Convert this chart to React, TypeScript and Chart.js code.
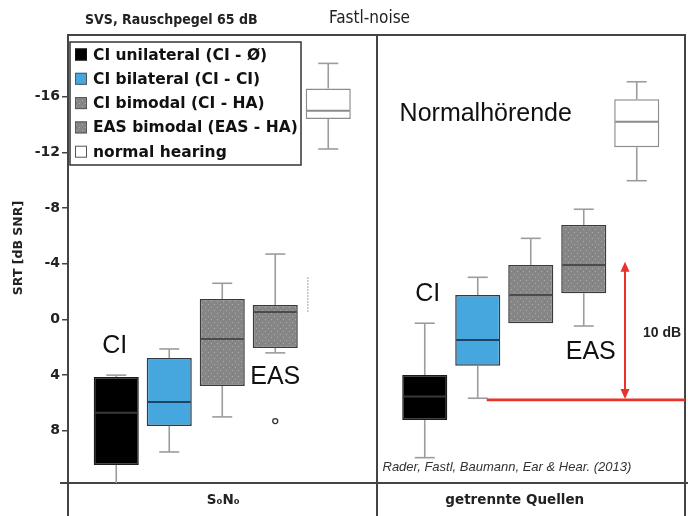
import React, { useEffect, useRef } from "react";
import { Chart, registerables } from "chart.js";

Chart.register(...registerables);

// ---------------- data (SRT in dB SNR) ----------------
// each entry per condition: [upper whisker, Q1 (box top), median, Q3 (box bottom), lower whisker]
const conditions = ["S₀N₀", "getrennte Quellen"];
const seriesNames = [
  "CI unilateral (CI - Ø)",
  "CI bilateral (CI - CI)",
  "CI bimodal (CI - HA)",
  "EAS bimodal (EAS - HA)",
  "normal hearing",
];
const ciUnilateral = [
  [4.0, 4.13, 6.7, 10.45, 12.5],
  [0.27, 3.99, 5.54, 7.22, 9.93],
];
const ciBilateral = [
  [2.12, 2.77, 5.93, 7.65, 9.52],
  [-3.03, -1.76, 1.47, 3.32, 5.66],
];
const ciBimodal = [
  [-2.6, -1.47, 1.4, 4.78, 7.0],
  [-5.83, -3.92, -1.76, 0.27, 0.27],
];
const easBimodal = [
  [-4.7, -1.04, -0.54, 2.05, 2.4],
  [-7.92, -6.79, -3.92, -1.88, 0.47],
];
const normalHearing = [
  [-18.4, -16.6, -15.0, -14.4, -12.25],
  [-17.08, -15.82, -14.21, -12.37, -9.97],
];
const easOutliers = [[7.3], []];
const yTicks = [-16, -12, -8, -4, 0, 4, 8];
const benefitBase = 5.78; // red reference line
const benefitTop = -4.15; // top of the 10 dB arrow
const faintMark = [-3.05, -0.47];

const seriesStats = [ciUnilateral, ciBilateral, ciBimodal, easBimodal, normalHearing];
const seriesOutliers = [[[], []], [[], []], [[], []], easOutliers, [[], []]];

// ---------------- styles ----------------
const FONT = "'DejaVu Sans', sans-serif";
const ARIAL = "'Liberation Sans', Arial, sans-serif";
const borderColors = ["#1a1a1a", "#2e3a44", "#3a3a3a", "#3a3a3a", "#8c8c8c"];
const medianColors = ["#3a3a3a", "#1d4460", "#4c4c4c", "#4c4c4c", "#8c8c8c"];
const whiskerColor = "#9c9c9c";
const RED = "#e8322b";

function makePattern(): CanvasPattern | string {
  const c = document.createElement("canvas");
  c.width = 6;
  c.height = 6;
  const g = c.getContext("2d");
  if (!g) return "#858585";
  g.fillStyle = "#868686";
  g.fillRect(0, 0, 6, 6);
  g.fillStyle = "#ababab";
  g.fillRect(1, 1, 1, 1);
  g.fillRect(4, 4, 1, 1);
  g.fillStyle = "#7a7a7a";
  g.fillRect(4, 1, 1, 1);
  return g.createPattern(c, "repeat") || "#858585";
}

const notes = [
  { text: "CI", series: 0, cond: 0, dx: -1.5, y: 1.9 },
  { text: "EAS", series: 3, cond: 0, dx: 0, y: 4.13 },
  { text: "CI", series: 0, cond: 1, dx: 3, y: -1.83 },
  { text: "EAS", series: 3, cond: 1, dx: 7, y: 2.33 },
  { text: "Normalhörende", series: 1, cond: 1, dx: 8, y: -14.76 },
];

export default function App() {
  const ref = useRef<HTMLCanvasElement | null>(null);

  useEffect(() => {
    if (!ref.current) return;
    const pattern = makePattern();
    const fills: any[] = ["#000000", "#46a7df", pattern, pattern, "#ffffff"];

    const line = (ctx: CanvasRenderingContext2D, x1: number, y1: number, x2: number, y2: number) => {
      ctx.beginPath();
      ctx.moveTo(x1, y1);
      ctx.lineTo(x2, y2);
      ctx.stroke();
    };

    const overlay = {
      id: "overlay",
      afterDatasetsDraw(chart: any) {
        const { ctx, chartArea: ca, scales } = chart;
        const y = scales.y;
        ctx.save();
        ctx.beginPath();
        ctx.rect(ca.left, ca.top, ca.right - ca.left, ca.bottom - ca.top);
        ctx.clip();
        const capHalf = 10;
        chart.data.datasets.forEach((_ds: any, di: number) => {
          const meta = chart.getDatasetMeta(di);
          meta.data.forEach((el: any, ci: number) => {
            const [wTop, q1, med, q3, wBot] = seriesStats[di][ci];
            const x = el.x;
            const half = el.width / 2;
            ctx.strokeStyle = whiskerColor;
            ctx.lineWidth = 1.6;
            if (wTop < q1) {
              const yt = y.getPixelForValue(wTop);
              line(ctx, x, yt, x, y.getPixelForValue(q1));
              line(ctx, x - capHalf, yt, x + capHalf, yt);
            }
            if (wBot > q3) {
              const yb = y.getPixelForValue(wBot);
              line(ctx, x, y.getPixelForValue(q3), x, yb);
              line(ctx, x - capHalf, yb, x + capHalf, yb);
            }
            ctx.strokeStyle = medianColors[di];
            ctx.lineWidth = 2;
            const ym = y.getPixelForValue(med);
            line(ctx, x - half + 1, ym, x + half - 1, ym);
            (seriesOutliers[di][ci] as number[]).forEach((v) => {
              ctx.beginPath();
              ctx.arc(x, y.getPixelForValue(v), 2.5, 0, Math.PI * 2);
              ctx.strokeStyle = "#333";
              ctx.lineWidth = 1.3;
              ctx.stroke();
            });
          });
        });

        // faint mark next to the normal-hearing box (left)
        const nh = chart.getDatasetMeta(4).data[0];
        ctx.strokeStyle = "#b9c5d2";
        ctx.lineWidth = 1.5;
        ctx.setLineDash([2, 1]);
        line(ctx, nh.x - 20.5, y.getPixelForValue(faintMark[0]), nh.x - 20.5, y.getPixelForValue(faintMark[1]));
        ctx.setLineDash([]);

        // red reference line + 10 dB arrow
        const bi = chart.getDatasetMeta(1).data[1];
        const yBase = y.getPixelForValue(benefitBase);
        const yTop = y.getPixelForValue(benefitTop);
        ctx.strokeStyle = RED;
        ctx.fillStyle = RED;
        ctx.lineWidth = 2.6;
        line(ctx, bi.x + 9, yBase, ca.right + 3, yBase);
        const ax = ca.right - 60;
        ctx.lineWidth = 2;
        line(ctx, ax, yTop + 6, ax, yBase - 6);
        ctx.beginPath();
        ctx.moveTo(ax, yTop);
        ctx.lineTo(ax - 4.5, yTop + 10);
        ctx.lineTo(ax + 4.5, yTop + 10);
        ctx.closePath();
        ctx.fill();
        ctx.beginPath();
        ctx.moveTo(ax, yBase - 1);
        ctx.lineTo(ax - 4.5, yBase - 11);
        ctx.lineTo(ax + 4.5, yBase - 11);
        ctx.closePath();
        ctx.fill();
        ctx.restore();
      },
      afterDraw(chart: any) {
        const { ctx, chartArea: ca, scales } = chart;
        const x = scales.x;
        const y = scales.y;
        ctx.save();
        // frame top & bottom extension
        ctx.strokeStyle = "#444";
        ctx.lineWidth = 2;
        line(ctx, ca.left - 1, ca.top, ca.right + 1, ca.top);
        line(ctx, ca.left - 8, ca.bottom, ca.left, ca.bottom);
        line(ctx, ca.right, ca.bottom, ca.right + 3, ca.bottom);

        // header texts
        ctx.fillStyle = "#222";
        ctx.textBaseline = "middle";
        ctx.textAlign = "left";
        ctx.font = `bold 14px 'DejaVu Sans Condensed', ${FONT}`;
        ctx.fillText("SVS, Rauschpegel 65 dB", 85, 20);
        ctx.font = `17px 'DejaVu Sans Condensed', ${FONT}`;
        ctx.fillText("Fastl-noise", 329, 19);

        // y title
        ctx.save();
        ctx.translate(19, 248);
        ctx.rotate(-Math.PI / 2);
        ctx.textAlign = "center";
        ctx.font = `bold 12.5px ${FONT}`;
        ctx.fillText("SRT [dB SNR]", 0, 0);
        ctx.restore();

        // category labels in the bottom strip
        const shifts = [1, -16];
        ctx.textAlign = "center";
        ctx.font = `bold 13.5px ${FONT}`;
        conditions.forEach((c, i) => {
          ctx.fillText(c, x.getPixelForValue(i) + shifts[i], ca.bottom + 17);
        });

        // annotation texts
        ctx.font = `25px ${ARIAL}`;
        ctx.fillStyle = "#111";
        notes.forEach((n) => {
          const el = chart.getDatasetMeta(n.series).data[n.cond];
          ctx.fillText(n.text, el.x + n.dx, y.getPixelForValue(n.y));
        });
        ctx.font = `bold 14px ${ARIAL}`;
        ctx.fillStyle = "#222";
        ctx.fillText("10 dB", ca.right - 23, y.getPixelForValue(0.95));
        ctx.textAlign = "left";
        ctx.font = `italic 13px ${ARIAL}`;
        ctx.fillStyle = "#333";
        ctx.fillText("Rader, Fastl, Baumann, Ear & Hear. (2013)", x.getPixelForValue(0.5) + 6, y.getPixelForValue(10.6));

        // legend
        const lx = ca.left + 2;
        const ly = ca.top + 7;
        const lw = 231;
        const lh = 123;
        ctx.fillStyle = "#fff";
        ctx.fillRect(lx, ly, lw, lh);
        ctx.strokeStyle = "#333";
        ctx.lineWidth = 1.5;
        ctx.strokeRect(lx, ly, lw, lh);
        seriesNames.forEach((name, i) => {
          const cy = ly + 12.5 + i * 24.3;
          ctx.fillStyle = fills[i];
          ctx.fillRect(lx + 5, cy - 6, 12, 12);
          ctx.strokeStyle = i === 0 ? "#111" : "#555";
          ctx.lineWidth = 1;
          ctx.strokeRect(lx + 5.5, cy - 5.5, 11, 11);
          ctx.fillStyle = "#111";
          ctx.font = `bold 15.5px ${FONT}`;
          ctx.textAlign = "left";
          ctx.fillText(name, lx + 23, cy + 1);
        });
        ctx.restore();
      },
    };

    const chart = new Chart(ref.current, {
      type: "bar",
      data: {
        labels: conditions,
        datasets: seriesStats.map((s, i) => ({
          label: seriesNames[i],
          data: s.map((v) => [v[1], v[3]]),
          backgroundColor: fills[i],
          borderColor: borderColors[i],
          borderWidth: 1.5,
          borderSkipped: false,
          categoryPercentage: 0.859,
          barPercentage: 0.85,
        })) as any,
      },
      options: {
        responsive: false,
        animation: false,
        devicePixelRatio: 1,
        layout: { padding: { left: 0, right: 3, top: 35, bottom: 0 } },
        plugins: { legend: { display: false }, tooltip: { enabled: false } },
        scales: {
          x: {
            type: "category",
            offset: true,
            grid: {
              display: true,
              offset: true,
              drawOnChartArea: true,
              drawTicks: true,
              tickLength: 33,
              color: "#444",
              lineWidth: 2,
            },
            border: { display: true, color: "#444", width: 2 },
            ticks: { display: false },
            afterFit: (s: any) => {
              s.height = 33;
            },
          },
          y: {
            type: "linear",
            reverse: true,
            min: -20.44,
            max: 11.75,
            afterBuildTicks: (s: any) => {
              s.ticks = yTicks.map((v) => ({ value: v }));
            },
            afterFit: (s: any) => {
              s.width = 68;
            },
            grid: { drawOnChartArea: false, drawTicks: true, tickLength: 6, color: "#444", lineWidth: 1.5 },
            border: { display: true, color: "#444", width: 2 },
            ticks: {
              padding: 2,
              color: "#222",
              font: { family: "'DejaVu Sans', sans-serif", size: 14, weight: "bold" },
              callback: (v: any) => String(v),
            },
          },
        },
      },
      plugins: [overlay],
    });
    return () => chart.destroy();
  }, []);

  return (
    <div style={{ position: "fixed", left: 0, top: 0, width: 688, height: 516, background: "#fff" }}>
      <canvas ref={ref} width={688} height={516} style={{ display: "block" }} />
    </div>
  );
}
